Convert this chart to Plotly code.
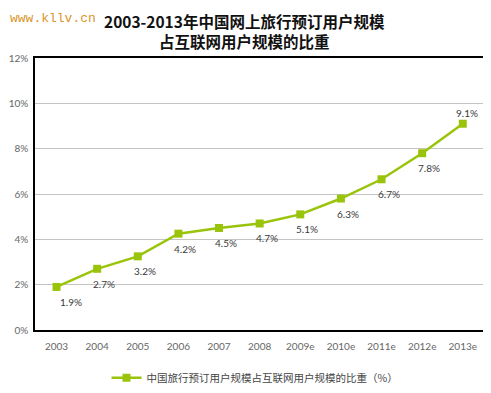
import plotly.graph_objects as go

categories = ["2003", "2004", "2005", "2006", "2007", "2008",
              "2009e", "2010e", "2011e", "2012e", "2013e"]
share_values = [1.9, 2.7, 3.25, 4.25, 4.5, 4.7, 5.1, 5.8, 6.65, 7.8, 9.1]
share_labels = ["1.9%", "2.7%", "3.2%", "4.2%", "4.5%", "4.7%",
                "5.1%", "6.3%", "6.7%", "7.8%", "9.1%"]
y_ticks = [0, 2, 4, 6, 8, 10, 12]
y_tick_text = [f"{v}%" for v in y_ticks]
series_name = "中国旅行预订用户规模占互联网用户规模的比重（%）"
title_line1 = "2003-2013年中国网上旅行预订用户规模"
title_line2 = "占互联网用户规模的比重"
watermark = "www.kllv.cn"

GREEN = "#99c40a"
LATIN = "Lato, 'DejaVu Sans', sans-serif"
CJK = "'Noto Sans CJK SC', sans-serif"
tick_font = dict(family=LATIN, size=10, color="#666666")

# figure is drawn inside the page body (8px offset), so size it to fit the window
W, H = 483, 385
ML, MR, MT, MB = 27, 1, 50, 63
PW, PH = W - ML - MR, H - MT - MB


def px_x(x):
    return (x - ML) / PW


def px_y(y):
    return 1 + (MT - y) / PH


fig = go.Figure()
fig.add_trace(go.Scatter(
    x=list(range(len(categories))), y=share_values, name=series_name,
    mode="lines+markers",
    line=dict(color=GREEN, width=2.5),
    marker=dict(symbol="square", size=8, color=GREEN),
))

annotations = []
n = len(categories)
for i, (v, t) in enumerate(zip(share_values, share_labels)):
    last = (i == n - 1)
    annotations.append(dict(
        x=i, y=v, xref="x", yref="y", text=t, showarrow=False,
        xshift=4 if last else (14 if i == 0 else 7),
        yshift=11 if last else -15,
        font=dict(family=LATIN, size=10, color="#3a3a3a"),
    ))

annotations += [
    dict(x=px_x(0), y=px_y(1), xref="paper", yref="paper", text=watermark,
         showarrow=False, xanchor="left", yanchor="top",
         font=dict(family="'Liberation Mono', monospace", size=13, color="#d9962a")),
    dict(x=px_x(236), y=px_y(0), xref="paper", yref="paper",
         text="<b>" + title_line1 + "<br>" + title_line2 + "</b>", showarrow=False,
         xanchor="center", yanchor="top", align="center",
         font=dict(family=CJK, size=15.5, color="#111111")),
]

fig.update_layout(
    width=W, height=H,
    margin=dict(l=ML, r=MR, t=MT, b=MB),
    paper_bgcolor="white", plot_bgcolor="white",
    showlegend=True,
    legend=dict(orientation="h", x=px_x(247), xanchor="center", y=-0.122, yanchor="top",
                font=dict(family=CJK, size=10.5, color="#444444")),
    annotations=annotations,
    xaxis=dict(
        tickmode="array", tickvals=list(range(n)), ticktext=categories,
        range=[-0.53, n - 0.33], showgrid=False, zeroline=False,
        showline=True, linecolor="black", linewidth=1.5, mirror=True,
        ticks="", tickfont=tick_font, ticklabelstandoff=6,
    ),
    yaxis=dict(
        range=[0, 12], tickmode="array", tickvals=y_ticks, ticktext=y_tick_text,
        showgrid=True, gridcolor="#c4c4c4", gridwidth=1, zeroline=False,
        showline=True, linecolor="black", linewidth=1.5,
        ticks="", tickfont=tick_font, ticklabelstandoff=3,
    ),
)

fig.write_html("out.html")
